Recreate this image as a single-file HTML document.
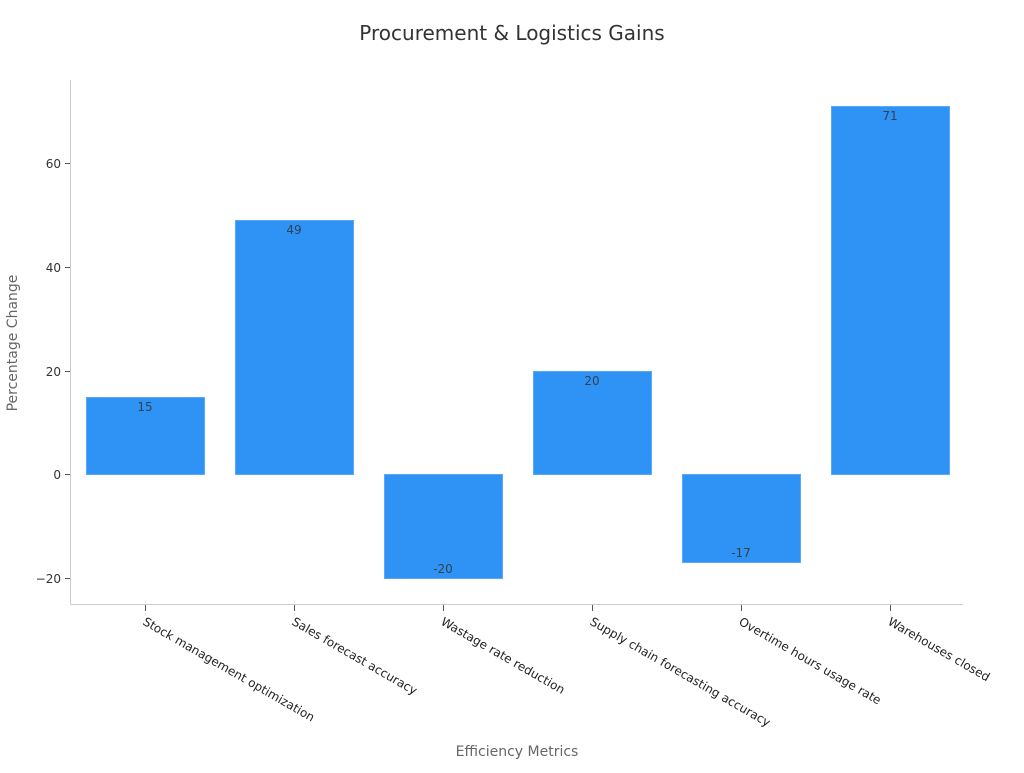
<!DOCTYPE html>
<html><head><meta charset="utf-8"><style>body{margin:0;background:#fff}</style></head>
<body>
<svg width="1024" height="768" xmlns="http://www.w3.org/2000/svg" font-family="DejaVu Sans, Liberation Sans, sans-serif">
<rect width="1024" height="768" fill="#fff"/>
<text x="512" y="40" text-anchor="middle" font-size="20" fill="#333">Procurement &amp; Logistics Gains</text>
<line x1="70.5" y1="80" x2="70.5" y2="605" stroke="#ccc"/>
<line x1="70" y1="604.5" x2="963" y2="604.5" stroke="#ccc"/>
<g font-size="12" fill="#333" text-anchor="end">
<line x1="65" x2="70" y1="163.5" y2="163.5" stroke="#555"/><text x="61" y="168">60</text>
<line x1="65" x2="70" y1="267.5" y2="267.5" stroke="#555"/><text x="61" y="272">40</text>
<line x1="65" x2="70" y1="371.5" y2="371.5" stroke="#555"/><text x="61" y="376">20</text>
<line x1="65" x2="70" y1="474.5" y2="474.5" stroke="#555"/><text x="61" y="479">0</text>
<line x1="65" x2="70" y1="578.5" y2="578.5" stroke="#555"/><text x="61" y="583">−20</text>
</g>
<text transform="translate(17,343) rotate(-90)" text-anchor="middle" font-size="14" fill="#666">Percentage Change</text>
<g fill="#2e93f5" stroke="#5aa9f7" stroke-width="1">
<rect x="86.5" y="397.5" width="118" height="77"/>
<rect x="235.5" y="220.5" width="118" height="254"/>
<rect x="384.5" y="474.5" width="118" height="104"/>
<rect x="533.5" y="371.5" width="118" height="103"/>
<rect x="682.5" y="474.5" width="118" height="88"/>
<rect x="831.5" y="106.5" width="118" height="368"/>
</g>
<g font-size="12" fill="#333" text-anchor="middle" opacity="0.85">
<text x="145" y="411">15</text><text x="294" y="234">49</text><text x="443" y="573">-20</text>
<text x="592" y="385">20</text><text x="741" y="557">-17</text><text x="890" y="120">71</text>
</g>
<g stroke="#555">
<line x1="145.5" x2="145.5" y1="605" y2="611"/><line x1="294.5" x2="294.5" y1="605" y2="611"/>
<line x1="443.5" x2="443.5" y1="605" y2="611"/><line x1="592.5" x2="592.5" y1="605" y2="611"/>
<line x1="741.5" x2="741.5" y1="605" y2="611"/><line x1="890.5" x2="890.5" y1="605" y2="611"/>
</g>
<g font-size="12" fill="#222">
<text transform="translate(142,624) rotate(30)">Stock management optimization</text>
<text transform="translate(291,624) rotate(30)">Sales forecast accuracy</text>
<text transform="translate(440,624) rotate(30)">Wastage rate reduction</text>
<text transform="translate(589,624) rotate(30)">Supply chain forecasting accuracy</text>
<text transform="translate(738,624) rotate(30)">Overtime hours usage rate</text>
<text transform="translate(887,624) rotate(30)">Warehouses closed</text>
</g>
<text x="517" y="756" text-anchor="middle" font-size="14" fill="#666">Efficiency Metrics</text>
</svg>
</body></html>
